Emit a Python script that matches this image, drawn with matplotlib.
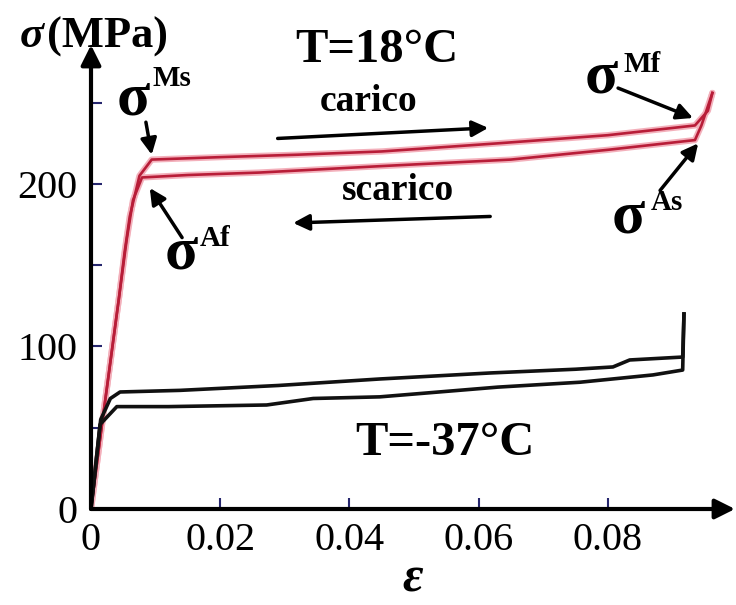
import matplotlib
matplotlib.use("Agg")
import matplotlib.pyplot as plt

# curva a T = 18 C (carico / scarico)
red_load_x = [0, 0.0017, 0.0043, 0.0052, 0.006, 0.0075, 0.0094, 0.02, 0.032, 0.045, 0.063, 0.08, 0.0935, 0.0955, 0.0962]
red_load_y = [0, 52, 129, 158, 180, 205, 215, 216.5, 218, 220, 225, 230, 236, 245, 256]
red_unload_x = [0.0962, 0.0945, 0.0935, 0.08, 0.065, 0.045, 0.026, 0.015, 0.0079, 0.0065, 0.0055, 0.0043, 0.0017, 0]
red_unload_y = [256, 236, 227, 221, 215, 211, 207, 205.5, 204, 190, 165, 129, 52, 0]

# curva a T = -37 C
black_load_x = [0, 0.0015, 0.003, 0.0045, 0.0138, 0.029, 0.0447, 0.0618, 0.075, 0.0808, 0.0834, 0.0916, 0.0918]
black_load_y = [0, 55, 68, 72, 73, 76, 80, 83.7, 86, 87.4, 91.7, 93.5, 120]
black_unload_x = [0.0918, 0.0916, 0.087, 0.0757, 0.063, 0.0447, 0.0344, 0.0272, 0.012, 0.004, 0.0014, 0]
black_unload_y = [120, 85.5, 82.5, 78, 75, 69, 68, 64, 63, 63, 52, 0]

xticks = [0, 0.02, 0.04, 0.06, 0.08]
xtick_labels = ["0", "0.02", "0.04", "0.06", "0.08"]
yticks = [0, 100, 200]
yticks_minor = [50, 150, 250]

serif = "Liberation Serif"

fig = plt.figure(figsize=(7.36, 6.05), dpi=100)
ax = fig.add_axes([91 / 736, 96 / 605, 644 / 736, 464 / 605])
ax.set_xlim(0, 0.0997)
ax.set_ylim(0, 285.5)

# linee rosse con alone rosa
for xs, ys in [(red_load_x, red_load_y), (red_unload_x, red_unload_y)]:
    ax.plot(xs, ys, color="#f3b0bb", lw=4.5, solid_capstyle="round", zorder=2)
    ax.plot(xs, ys, color="#b81d38", lw=1.9, zorder=3)

for xs, ys in [(black_load_x, black_load_y), (black_unload_x, black_unload_y)]:
    ax.plot(xs, ys, color="#111111", lw=2.6, zorder=3)

# assi con freccia
for s in ax.spines.values():
    s.set_visible(False)
ax.annotate("", xy=(1, 0), xytext=(0, 0), xycoords="axes fraction",
            arrowprops=dict(arrowstyle="-|>", lw=3, color="k", mutation_scale=30, shrinkA=0, shrinkB=0))
ax.annotate("", xy=(0, 1), xytext=(0, 0), xycoords="axes fraction",
            arrowprops=dict(arrowstyle="-|>", lw=3, color="k", mutation_scale=30, shrinkA=0, shrinkB=0))

ax.set_xticks(xticks)
ax.set_xticklabels(xtick_labels)
ax.set_yticks(yticks)
ax.set_yticks(yticks_minor, minor=True)
ax.tick_params(which="both", direction="in", length=8, width=1.5, color="#26266e")
ax.tick_params(axis="x", pad=9)
ax.tick_params(axis="y", pad=10)
for lab in ax.get_xticklabels() + ax.get_yticklabels():
    lab.set_fontfamily(serif)
    lab.set_fontsize(29)

# etichette assi
ax.text(-0.0110, 284, "σ", fontfamily=serif, fontsize=32, fontweight="bold", style="italic",
        ha="left", va="baseline", clip_on=False)
ax.text(-0.0068, 284, "(MPa)", fontfamily=serif, fontsize=32, fontweight="bold",
        ha="left", va="baseline", clip_on=False)
ax.text(0.0498, -51, "ε", fontfamily=serif, fontsize=36, fontweight="bold", style="italic",
        ha="center", va="baseline", clip_on=False)

ax.text(0.0443, 275, "T=18°C", fontfamily=serif, fontsize=35, fontweight="bold", ha="center", va="baseline")
ax.text(0.0548, 33, "T=-37°C", fontfamily=serif, fontsize=35, fontweight="bold", ha="center", va="baseline")

ax.text(0.0430, 245, "carico", fontfamily=serif, fontsize=27, fontweight="bold", ha="center", va="baseline")
ax.text(0.0475, 190, "scarico", fontfamily=serif, fontsize=27, fontweight="bold", ha="center", va="baseline")

arrow = dict(arrowstyle="-|>", lw=2.5, color="k", mutation_scale=24, shrinkA=0, shrinkB=0)
ax.annotate("", xy=(0.0615, 234.5), xytext=(0.0289, 228), arrowprops=arrow)
ax.annotate("", xy=(0.0313, 176), xytext=(0.0618, 180), arrowprops=arrow)

# punti caratteristici
labels = [
    ("Ms", (0.0040, 243), (0.0095, 260), (0.0094, 218), (0.0085, 238)),
    ("Af", (0.0114, 148), (0.0169, 162), (0.0091, 197.5), (0.0141, 167)),
    ("Mf", (0.0764, 256), (0.0825, 269), (0.0932, 240.6), (0.0816, 259)),
    ("As", (0.0806, 170), (0.0867, 184), (0.0940, 225), (0.0881, 196)),
]
for sup, p_sig, p_sup, tip, tail in labels:
    ax.text(p_sig[0], p_sig[1], "σ", fontfamily=serif, fontsize=44, fontweight="bold", ha="left", va="baseline")
    ax.text(p_sup[0], p_sup[1], sup, fontfamily=serif, fontsize=21, fontweight="bold", ha="left", va="baseline")
    ax.annotate("", xy=tip, xytext=tail, arrowprops=arrow)

fig.savefig("out.png", dpi=100)
